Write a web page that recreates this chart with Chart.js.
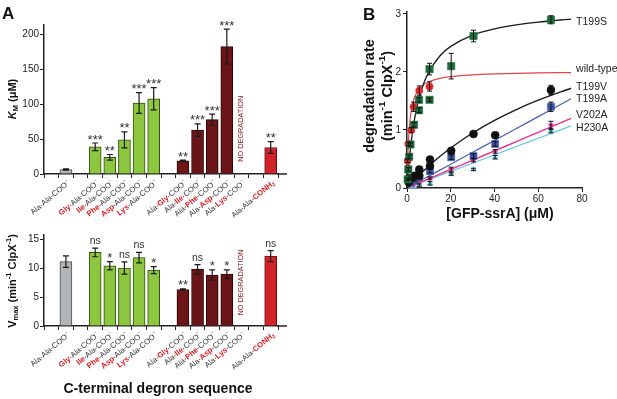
<!DOCTYPE html>
<html>
<head>
<meta charset="utf-8">
<script src="https://cdn.jsdelivr.net/npm/chart.js@4.4.1/dist/chart.umd.min.js"></script>
<style>
html,body{margin:0;padding:0;background:#fff;}
#wrap{position:relative;width:617px;height:399px;overflow:hidden;background:#fff;}
canvas{position:absolute;}
</style>
</head>
<body>
<div id="wrap">
<canvas id="cKm" width="300" height="225" style="left:0;top:0;width:300px;height:225px"></canvas>
<canvas id="cVmax" width="300" height="174" style="left:0;top:225px;width:300px;height:174px"></canvas>
<canvas id="cB" width="297" height="230" style="left:320px;top:0;width:297px;height:230px"></canvas>
</div>
<script>
// ================= Panel A data =================
const degronLabels = ["", "Ala-Ala-COO⁻", "", "Gly-Ala-COO⁻", "Ile-Ala-COO⁻", "Phe-Ala-COO⁻", "Asp-Ala-COO⁻", "Lys-Ala-COO⁻", "",
  "Ala-Gly-COO⁻", "Ala-Ile-COO⁻", "Ala-Phe-COO⁻", "Ala-Asp-COO⁻", "Ala-Lys-COO⁻", "", "Ala-Ala-CONH₂"];
const substitutedResidue = [-1, -1, -1, 0, 0, 0, 0, 0, -1, 1, 1, 1, 1, 1, -1, 2];
const degronGroup = ["", "parent", "", "n", "n", "n", "n", "n", "", "c", "c", "c", "c", "c", "", "amide"];
const kmValues  = [null, 6.5, null, 39, 24, 49, 102, 108, null, 19, 63, 78, 183, null, null, 38];
const kmErrors  = [null, 1, null, 5.5, 4, 11.5, 15, 16, null, 1, 9, 8, 25, null, null, 8.5];
const kmSignif  = ["", "", "", "***", "**", "**", "***", "***", "", "**", "***", "***", "***", "", "", "**"];
const vmaxValues = [null, 11.1, null, 12.7, 10.4, 10.0, 11.8, 9.65, null, 6.3, 9.8, 8.8, 8.95, null, null, 12.05];
const vmaxErrors = [null, 1.0, null, 0.75, 0.7, 1.05, 0.9, 0.6, null, 0.12, 0.8, 0.9, 0.75, null, null, 0.95];
const vmaxSignif = ["", "", "", "ns", "*", "ns", "ns", "*", "", "**", "ns", "*", "*", "", "", "ns"];
const kmTicks = [0, 50, 100, 150, 200];
const vmaxTicks = [0, 5, 10, 15];
const noDegradationIndex = 13;

// ================= Panel B data =================
const t199sConc = [0.3, 0.6, 1.0, 1.6, 3.2, 5.5, 5.5, 10.3, 10.3, 20.2, 30.4, 65.8];
const t199sRate = [0.15, 0.32, 0.54, 0.75, 1.09, 1.34, 1.52, 1.52, 2.05, 2.10, 2.62, 2.90];
const t199sErr  = [0.02, 0.03, 0.03, 0.03, 0.04, 0.04, 0.04, 0.03, 0.10, 0.22, 0.10, 0.07];
const wildTypeConc = [0.3, 0.6, 2.0, 3.0, 5.6, 10.3];
const wildTypeRate = [0.47, 0.76, 1.00, 1.40, 1.68, 1.75];
const wildTypeErr  = [0.03, 0.03, 0.04, 0.08, 0.08, 0.08];
const t199vConc = [0.8, 1.5, 3.5, 5.6, 5.6, 10.5, 10.5, 20.2, 30.4, 40.3, 65.8];
const t199vRate = [0.10, 0.17, 0.21, 0.21, 0.32, 0.38, 0.49, 0.64, 0.93, 0.91, 1.69];
const t199vErr  = [0.01, 0.02, 0.02, 0.02, 0.03, 0.03, 0.03, 0.03, 0.03, 0.04, 0.08];
const t199aConc = [1.5, 3.5, 5.6, 10.5, 20.2, 30.4, 40.3, 65.8];
const t199aRate = [0.10, 0.14, 0.19, 0.29, 0.53, 0.55, 0.76, 1.40];
const t199aErr  = [0.01, 0.02, 0.02, 0.03, 0.04, 0.04, 0.04, 0.08];
const v202aConc = [3.0, 5.6, 10.5, 20.2, 30.4, 40.3, 65.8];
const v202aRate = [0.06, 0.10, 0.17, 0.32, 0.48, 0.63, 1.08];
const v202aErr  = [0.01, 0.01, 0.02, 0.04, 0.03, 0.03, 0.07];
const h230aConc = [3.0, 5.6, 10.5, 20.2, 30.4, 40.3, 65.8];
const h230aRate = [0.03, 0.05, 0.08, 0.24, 0.32, 0.53, 0.99];
const h230aErr  = [0.01, 0.02, 0.03, 0.02, 0.02, 0.03, 0.04];
const fitConc   = [0, 0.25, 0.5, 1, 1.5, 2, 3, 4, 5, 7.5, 10, 15, 20, 30, 40, 50, 60, 75];
const t199sFit    = [0, 0.133, 0.255, 0.471, 0.658, 0.819, 1.087, 1.299, 1.471, 1.787, 2.001, 2.275, 2.441, 2.635, 2.743, 2.813, 2.861, 2.911];
const wildTypeFit = [0, 0.400, 0.668, 1.003, 1.205, 1.340, 1.509, 1.610, 1.678, 1.778, 1.832, 1.890, 1.920, 1.951, 1.967, 1.977, 1.984, 1.990];
const t199vFit    = [0, 0.011, 0.021, 0.042, 0.062, 0.083, 0.123, 0.162, 0.200, 0.292, 0.380, 0.542, 0.690, 0.948, 1.166, 1.353, 1.514, 1.720];
const t199aFit    = [0, 0.005, 0.010, 0.021, 0.031, 0.041, 0.062, 0.082, 0.103, 0.154, 0.205, 0.308, 0.410, 0.615, 0.820, 1.025, 1.230, 1.540];
const v202aFit    = [0, 0.004, 0.008, 0.016, 0.024, 0.032, 0.048, 0.064, 0.080, 0.120, 0.160, 0.240, 0.320, 0.480, 0.640, 0.800, 0.960, 1.200];
const h230aFit    = [0, 0.004, 0.007, 0.014, 0.021, 0.029, 0.043, 0.057, 0.072, 0.107, 0.143, 0.215, 0.286, 0.429, 0.572, 0.715, 0.858, 1.070];
const seriesNames = ["T199S", "wild-type", "T199V", "T199A", "V202A", "H230A"];
const bConcTicks = [0, 20, 40, 60, 80];
const bRateTicks = [0, 1, 2, 3];

// ================= helpers =================
const FONT = "'Liberation Sans', Arial, Helvetica, sans-serif";
const INK = '#231f20';
const RED = '#d2232a';
function fnt(size, bold, italic) { return (italic ? 'italic ' : '') + (bold ? 'bold ' : '') + size + 'px ' + FONT; }
function drawRich(ctx, segs, x, y, size, align, baseColor) {
  let total = 0;
  const parts = segs.map(s => {
    const sz = (s.sup || s.sub) ? size * 0.68 : size;
    ctx.font = fnt(sz, s.bold, s.italic);
    const w = ctx.measureText(s.t).width;
    total += w;
    return { s, sz, w };
  });
  let cx = align === 'center' ? x - total / 2 : (align === 'right' ? x - total : x);
  ctx.textAlign = 'left';
  ctx.textBaseline = 'middle';
  for (const p of parts) {
    ctx.font = fnt(p.sz, p.s.bold, p.s.italic);
    ctx.fillStyle = p.s.color || baseColor || INK;
    const dy = p.s.sup ? -size * 0.36 : (p.s.sub ? size * 0.28 : 0);
    ctx.fillText(p.s.t, cx, y + dy);
    cx += p.w;
  }
}
function degronSegs(label, pos) {
  const parts = label.split('-');
  const segs = [];
  parts.forEach((p, i) => {
    const red = i === pos;
    const col = red ? RED : '#333';
    const last = p.slice(-1);
    if (last === '⁻') { segs.push({ t: p.slice(0, -1), color: col, bold: red }); segs.push({ t: '−', sup: true, color: col, bold: red }); }
    else if (last === '₂') { segs.push({ t: p.slice(0, -1), color: col, bold: red }); segs.push({ t: '2', sub: true, color: col, bold: red }); }
    else segs.push({ t: p, color: col, bold: red });
    if (i < parts.length - 1) segs.push({ t: '-', color: '#333' });
  });
  return segs;
}
const GROUP_FILL = { parent: '#b3b4b6', n: '#8dc63f', c: '#6b1518', amide: '#d1232a' };
const GROUP_EDGE = { parent: '#4d4d4d', n: '#2f4d10', c: '#2a0505', amide: '#6b0e12' };

function barPanelPlugin(values, errors, signif, opts) {
  return {
    id: 'annot',
    afterDatasetsDraw(chart) {
      const ctx = chart.ctx, xs = chart.scales.x, ys = chart.scales.y;
      ctx.save();
      values.forEach((v, i) => {
        if (v == null) return;
        const px = xs.getPixelForValue(i);
        const t = ys.getPixelForValue(v + errors[i]);
        const b = ys.getPixelForValue(v - errors[i]);
        ctx.strokeStyle = '#1a1a1a'; ctx.lineWidth = 1.2;
        ctx.beginPath();
        ctx.moveTo(px, t); ctx.lineTo(px, b);
        ctx.moveTo(px - 3, t); ctx.lineTo(px + 3, t);
        ctx.moveTo(px - 3, b); ctx.lineTo(px + 3, b);
        ctx.stroke();
        if (signif[i]) {
          ctx.fillStyle = '#333';
          ctx.textAlign = 'center'; ctx.textBaseline = 'alphabetic';
          if (signif[i] === 'ns') {
            ctx.font = fnt(10.5, false);
            ctx.fillText(signif[i], px, t - 4);
          } else {
            ctx.font = fnt(13, false);
            ctx.fillText(signif[i], px, t + 0.5);
          }
        }
      });
      ctx.restore();
    },
    afterDraw(chart) {
      const ctx = chart.ctx, xs = chart.scales.x, ys = chart.scales.y, ca = chart.chartArea;
      ctx.save();
      // extend x axis line
      ctx.strokeStyle = '#222'; ctx.lineWidth = 1.5;
      ctx.beginPath(); ctx.moveTo(ca.right - 1, ca.bottom); ctx.lineTo(ca.right + 9, ca.bottom); ctx.stroke();
      // rotated degron labels
      degronLabels.forEach((lab, i) => {
        if (!lab) return;
        const px = xs.getPixelForValue(i);
        ctx.save();
        ctx.translate(px + 3, ca.bottom + 8);
        ctx.rotate(-40 * Math.PI / 180);
        drawRich(ctx, degronSegs(lab, substitutedResidue[i]), 0, 0, 7.8, 'right', '#333');
        ctx.restore();
      });
      // NO DEGRADATION
      ctx.save();
      ctx.translate(xs.getPixelForValue(noDegradationIndex), ys.getPixelForValue(opts.noDegY));
      ctx.rotate(-Math.PI / 2);
      ctx.fillStyle = '#8a2424'; ctx.font = fnt(7.3, false);
      ctx.textAlign = 'center'; ctx.textBaseline = 'middle';
      ctx.fillText('NO DEGRADATION', 0, 0);
      ctx.restore();
      // y title
      ctx.save();
      ctx.translate(13, opts.titleY);
      ctx.rotate(-Math.PI / 2);
      drawRich(ctx, opts.titleSegs, 0, 0, 11, 'center', '#111');
      ctx.restore();
      if (opts.extra) opts.extra(ctx, chart);
      ctx.restore();
    }
  };
}

function barConfig(values, yTicks, yMax, padTop, xHeight, plugin) {
  return {
    type: 'bar',
    data: {
      labels: degronLabels,
      datasets: [{
        data: values,
        backgroundColor: degronGroup.map(g => GROUP_FILL[g] || '#fff'),
        borderColor: degronGroup.map(g => GROUP_EDGE[g] || '#000'),
        borderWidth: 1,
        barThickness: 12
      }]
    },
    options: {
      responsive: false, animation: false, devicePixelRatio: 1,
      layout: { padding: { top: padTop, right: 22, left: 0, bottom: 0 } },
      plugins: { legend: { display: false }, tooltip: { enabled: false } },
      scales: {
        x: {
          type: 'category', offset: true,
          grid: { display: true, offset: true, drawOnChartArea: false, drawTicks: true, tickLength: 4, color: '#222', lineWidth: 1 },
          border: { display: true, color: '#222', width: 1.5 },
          ticks: { display: false },
          afterFit: s => { s.height = xHeight; }
        },
        y: {
          min: 0, max: yMax,
          grid: { display: true, drawOnChartArea: false, drawTicks: true, tickLength: 4, color: '#222', lineWidth: 1 },
          border: { display: true, color: '#222', width: 1.5 },
          ticks: { font: { family: FONT, size: 10 }, color: '#222', padding: 1 },
          afterBuildTicks: s => { s.ticks = yTicks.map(v => ({ value: v })); },
          afterFit: s => { s.width = 44; }
        }
      }
    },
    plugins: [plugin]
  };
}

// ---- KM chart ----
new Chart(document.getElementById('cKm'), barConfig(kmValues, kmTicks, 214, 25, 51,
  barPanelPlugin(kmValues, kmErrors, kmSignif, {
    noDegY: 65, titleY: 99,
    titleSegs: [{ t: 'K', bold: true, italic: true }, { t: 'M', sub: true, bold: true }, { t: ' (μM)', bold: true }],
    extra: (ctx) => { ctx.fillStyle = '#111'; ctx.font = fnt(17, true); ctx.textAlign = 'left'; ctx.textBaseline = 'alphabetic'; ctx.fillText('A', 2, 19); }
  })));

// ---- Vmax chart ----
new Chart(document.getElementById('cVmax'), barConfig(vmaxValues, vmaxTicks, 15.7, 10, 73,
  barPanelPlugin(vmaxValues, vmaxErrors, vmaxSignif, {
    noDegY: 7.5, titleY: 56,
    titleSegs: [{ t: 'V', bold: true }, { t: 'max', sub: true, bold: true }, { t: ' (min', bold: true }, { t: '-1', sup: true, bold: true },
      { t: ' ClpX', bold: true }, { t: '-1', sup: true, bold: true }, { t: ')', bold: true }],
    extra: (ctx) => { ctx.fillStyle = '#111'; ctx.font = fnt(14, true); ctx.textAlign = 'center'; ctx.textBaseline = 'middle'; ctx.fillText('C-terminal degron sequence', 158, 164); }
  })));

// ================= Panel B =================
const seriesB = [
  { name: seriesNames[0], conc: t199sConc, rate: t199sRate, err: t199sErr, fit: t199sFit },
  { name: seriesNames[1], conc: wildTypeConc, rate: wildTypeRate, err: wildTypeErr, fit: wildTypeFit },
  { name: seriesNames[2], conc: t199vConc, rate: t199vRate, err: t199vErr, fit: t199vFit },
  { name: seriesNames[3], conc: t199aConc, rate: t199aRate, err: t199aErr, fit: t199aFit },
  { name: seriesNames[4], conc: v202aConc, rate: v202aRate, err: v202aErr, fit: v202aFit },
  { name: seriesNames[5], conc: h230aConc, rate: h230aRate, err: h230aErr, fit: h230aFit }
];
const B_STYLE = [
  { fill: '#1d6b3b', line: '#1a1a1a', pt: 'rect', r: 5.2, rot: 0, lw: 1.3, dy: 3 },
  { fill: '#e4232b', line: '#e0474d', pt: 'circle', r: 3.6, rot: 0, lw: 1.2, dy: -3 },
  { fill: '#111111', line: '#1a1a1a', pt: 'circle', r: 4, rot: 0, lw: 1.4, dy: -1 },
  { fill: '#3b55a6', line: '#4b5db0', pt: 'rect', r: 5, rot: 0, lw: 1.2, dy: 0 },
  { fill: '#e3278a', line: '#e6338f', pt: 'triangle', r: 3, rot: 180, lw: 1.4, dy: -3 },
  { fill: '#67c6e6', line: '#67c8e8', pt: 'triangle', r: 3.3, rot: 0, lw: 1.2, dy: 2 }
];
const bDatasets = [];
seriesB.forEach((s, k) => {
  const st = B_STYLE[k];
  bDatasets.push({
    label: s.name, data: s.conc.map((x, i) => ({ x, y: s.rate[i] })),
    showLine: false, pointStyle: st.pt, pointRadius: st.r, pointRotation: st.rot,
    backgroundColor: st.fill, borderColor: st.fill, borderWidth: 0.5, clip: false
  });
});
seriesB.forEach((s, k) => {
  const st = B_STYLE[k];
  bDatasets.push({
    label: s.name + ' fit', data: fitConc.map((x, i) => ({ x, y: s.fit[i] })),
    showLine: true, pointRadius: 0, borderColor: st.line, borderWidth: st.lw, tension: 0.3, fill: false
  });
});

const bPlugin = {
  id: 'bAnnot',
  afterDatasetsDraw(chart) {
    const ctx = chart.ctx, xs = chart.scales.x, ys = chart.scales.y;
    ctx.save();
    ctx.strokeStyle = '#111'; ctx.lineWidth = 1;
    seriesB.forEach(s => {
      s.conc.forEach((c, i) => {
        const e = s.err[i];
        if (e < 0.015) return;
        const px = xs.getPixelForValue(c);
        const t = ys.getPixelForValue(s.rate[i] + e), b = ys.getPixelForValue(s.rate[i] - e);
        ctx.beginPath();
        ctx.moveTo(px, t); ctx.lineTo(px, b);
        ctx.moveTo(px - 2.5, t); ctx.lineTo(px + 2.5, t);
        ctx.moveTo(px - 2.5, b); ctx.lineTo(px + 2.5, b);
        ctx.stroke();
      });
    });
    ctx.restore();
  },
  afterDraw(chart) {
    const ctx = chart.ctx, xs = chart.scales.x, ys = chart.scales.y;
    ctx.save();
    // series labels
    seriesB.forEach((s, k) => {
      const lastX = fitConc[fitConc.length - 1];
      const lastY = s.fit[s.fit.length - 1];
      ctx.fillStyle = '#222'; ctx.font = fnt(10.5, false);
      ctx.textAlign = 'left'; ctx.textBaseline = 'middle';
      ctx.fillText(s.name, xs.getPixelForValue(lastX) + 5, ys.getPixelForValue(lastY) + B_STYLE[k].dy);
    });
    // x title
    ctx.fillStyle = '#111'; ctx.font = fnt(14, true); ctx.textAlign = 'center'; ctx.textBaseline = 'middle';
    ctx.fillText('[GFP-ssrA] (μM)', 180, 214);
    // y title
    ctx.save();
    ctx.translate(50, 96); ctx.rotate(-Math.PI / 2);
    ctx.font = fnt(14.5, true); ctx.textAlign = 'center'; ctx.textBaseline = 'middle';
    ctx.fillText('degradation rate', 0, 0);
    ctx.restore();
    ctx.save();
    ctx.translate(68, 96); ctx.rotate(-Math.PI / 2);
    drawRich(ctx, [{ t: '(min', bold: true }, { t: '-1', sup: true, bold: true }, { t: ' ClpX', bold: true }, { t: '-1', sup: true, bold: true }, { t: ')', bold: true }], 0, 0, 14.5, 'center', '#111');
    ctx.restore();
    // panel letter
    ctx.fillStyle = '#111'; ctx.font = fnt(17, true); ctx.textAlign = 'left'; ctx.textBaseline = 'alphabetic';
    ctx.fillText('B', 43, 20);
    ctx.restore();
  }
};

new Chart(document.getElementById('cB'), {
  type: 'scatter',
  data: { datasets: bDatasets },
  options: {
    responsive: false, animation: false, devicePixelRatio: 1,
    layout: { padding: { top: 12, right: 35, left: 0, bottom: 0 } },
    plugins: { legend: { display: false }, tooltip: { enabled: false } },
    scales: {
      x: {
        type: 'linear', min: 0, max: 80,
        grid: { display: true, drawOnChartArea: false, drawTicks: true, tickLength: 4, color: '#222' },
        border: { display: true, color: '#222', width: 1.5 },
        ticks: { font: { family: FONT, size: 10 }, color: '#222', padding: 1 },
        afterBuildTicks: s => { s.ticks = bConcTicks.map(v => ({ value: v })); },
        afterFit: s => { s.height = 42; }
      },
      y: {
        type: 'linear', min: 0, max: 3.034,
        grid: { display: true, drawOnChartArea: false, drawTicks: true, tickLength: 4, color: '#222' },
        border: { display: true, color: '#222', width: 1.5 },
        ticks: { font: { family: FONT, size: 10 }, color: '#222', padding: 2 },
        afterBuildTicks: s => { s.ticks = bRateTicks.map(v => ({ value: v })); },
        afterFit: s => { s.width = 87; }
      }
    }
  },
  plugins: [bPlugin]
});
</script>
</body>
</html>
